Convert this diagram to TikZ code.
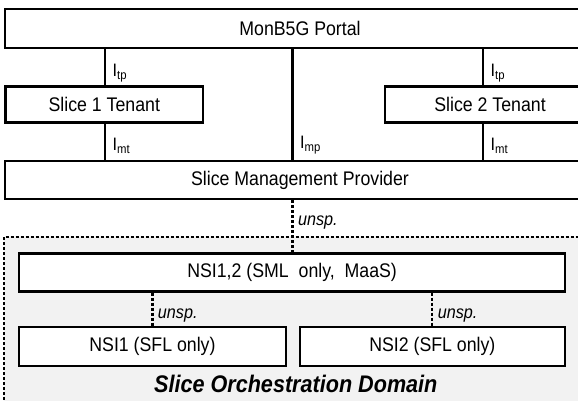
\documentclass[tikz,border=0pt]{standalone}
\usepackage{fontspec}
\setmainfont{Liberation Sans}[FakeStretch=0.9]

\begin{document}
\begin{tikzpicture}[x=1pt, y=-1pt,
  box/.style={draw, fill=white, line width=2.2pt, inner sep=0pt, font=\fontsize{19.7}{23}\selectfont},
  link/.style={line width=2.2pt},
  unsplink/.style={line width=2.2pt, dash pattern=on 3pt off 2pt},
  iface/.style={anchor=base west, inner sep=0pt, xshift=6.5pt, font=\fontsize{18}{21}\selectfont},
  unsp/.style={anchor=base west, inner sep=0pt, xshift=4.4pt, font=\fontsize{18}{21}\selectfont\itshape}]

 \clip (0,0) rectangle (578,401);

 %%%%%%%%%% Points pour les liens %%%%%%%%%%
 \coordinate (xa) at (105,0);
 \coordinate (xb) at (292.5,0);
 \coordinate (xc) at (483,0);

 %%%%%%%%%% Orchestration domain %%%%%%%%%%
 \fill [color=black!5] (3.7,237) rectangle (600,420);
 \draw [unsplink] (3.7,420) -- (3.7,237) -- (600,237);

 %%%%%%%%%% Boxes %%%%%%%%%%
 \node [box, minimum width=590pt, minimum height=39pt] (portal) at (300,28.5) {MonB5G Portal};
 \node [box, minimum width=197.5pt, minimum height=36pt] (tenant1) at (104.3,104.5) {Slice 1 Tenant};
 \node [box, minimum width=210pt, minimum height=36pt] (tenant2) at (490,104.5) {Slice 2 Tenant};
 \node [box, minimum width=590pt, minimum height=38pt] (smp) at (300,180) {Slice Management Provider};
 \node [box, minimum width=545.8pt, minimum height=38pt] (nsi12) at (292.1,272.5) {NSI1,2 (SML~ only,~ MaaS)};
 \node [box, minimum width=266.5pt, minimum height=39pt] (nsi1) at (152.45,346.5) {NSI1 (SFL only)};
 \node [box, minimum width=265.3pt, minimum height=39pt] (nsi2) at (432.35,346.5) {NSI2 (SFL only)};

 \node [anchor=base, inner sep=0pt, font=\fontsize{24}{28}\selectfont\bfseries\itshape] (domain) at (295.8,392) {Slice Orchestration Domain};

 %%%%%%%%%% Interfaces %%%%%%%%%%
 \draw [link] (portal.south -| xa) -- (tenant1.north -| xa) node [iface, pos=0.76] {I\textsubscript{tp}};
 \draw [link] (portal.south -| xc) -- (tenant2.north -| xc) node [iface, pos=0.76] {I\textsubscript{tp}};
 \draw [link] (portal.south -| xb) -- (smp.north -| xb) node [iface, pos=0.9] {I\textsubscript{mp}};
 \draw [link] (tenant1.south -| xa) -- (smp.north -| xa) node [iface, pos=0.74] {I\textsubscript{mt}};
 \draw [link] (tenant2.south -| xc) -- (smp.north -| xc) node [iface, pos=0.74] {I\textsubscript{mt}};

 %%%%%%%%%% Unspecified links %%%%%%%%%%
 \draw [unsplink] (smp.south -| xb) -- (nsi12.north -| xb) node [unsp, pos=0.49] {unsp.};
 \draw [unsplink] (nsi12.south -| nsi1.north) -- (nsi1.north) node [unsp, pos=0.77] {unsp.};
 \draw [unsplink] (nsi12.south -| nsi2.north) -- (nsi2.north) node [unsp, pos=0.77] {unsp.};

\end{tikzpicture}
\end{document}
